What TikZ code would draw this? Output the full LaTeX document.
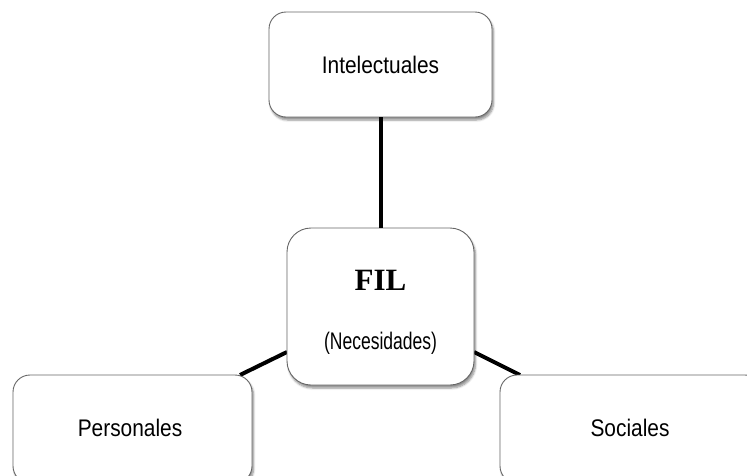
\documentclass[tikz,border=0pt]{standalone}
\usepackage{fontspec}
\setmainfont{Liberation Sans}
\newfontfamily\timesf{Liberation Serif}
\usetikzlibrary{shadows.blur}
\begin{document}
\begin{tikzpicture}[x=1pt,y=-1pt,
  boxstyle/.style={draw=gray!80!black, line width=0.9pt, fill=white, rounded corners=#1, inner sep=0pt,
     blur shadow={shadow xshift=1.5pt, shadow yshift=-3pt, shadow blur steps=6, shadow opacity=45}},
  boxstyle/.default=17pt,
  lbl/.style={font=\fontsize{24}{26}\selectfont, inner sep=0pt},
  conn/.style={line width=4pt, black}]
\useasboundingbox (0,0) rectangle (747,475);
\clip (0,0) rectangle (747,475);
% connectors first (behind)
\coordinate (fl) at (287,352);
\coordinate (pr) at (240,375);
\coordinate (fr) at (474,352);
\coordinate (sr) at (520,375);
\draw[conn] (fl) -- (pr);
\draw[conn] (fr) -- (sr);
\node[boxstyle, minimum width=223pt, minimum height=105pt] (intel) at (380.5,64.5) {};
\node[boxstyle=24pt, minimum width=187pt, minimum height=157pt] (fil) at (380.5,306.5) {};
\node[boxstyle, minimum width=239pt, minimum height=108pt] (pers) at (132.5,429) {};
\node[boxstyle, minimum width=262pt, minimum height=108pt] (soc) at (631,429) {};
\draw[conn] (intel.south) -- (fil.north);
\node[lbl] (tintel) at (380.5,65) {\scalebox{0.87}[1]{Intelectuales}};
\node[font=\timesf\bfseries\fontsize{31}{33}\selectfont, inner sep=0pt] (tfil) at (380.5,280) {FIL};
\node[font=\fontsize{24}{26}\selectfont, inner sep=0pt] (tnec) at (380.5,343) {\scalebox{0.73}[1]{(Necesidades)}};
\node[lbl] (tpers) at (130,428) {\scalebox{0.87}[1]{Personales}};
\node[lbl] (tsoc) at (630,428) {\scalebox{0.87}[1]{Sociales}};
\end{tikzpicture}
\end{document}
